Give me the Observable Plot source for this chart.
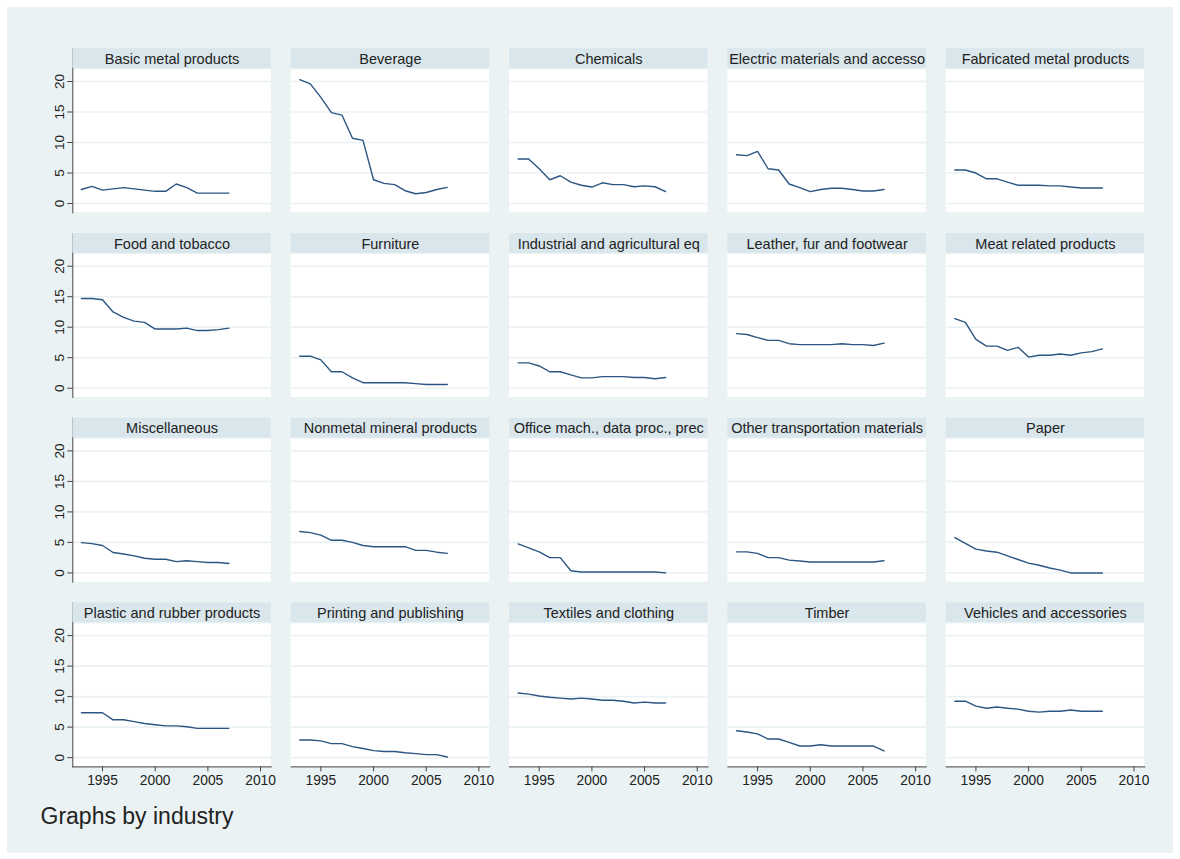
<!DOCTYPE html>
<html><head><meta charset="utf-8">
<script src="https://cdn.jsdelivr.net/npm/d3@7"></script>
<script src="https://cdn.jsdelivr.net/npm/@observablehq/plot@0.6"></script>
<style>
body{margin:0;background:#fff;}
#wrap{position:relative;width:1180px;height:859px;overflow:hidden;font-family:"Liberation Sans",Arial,sans-serif;}
#bg{position:absolute;left:7px;top:7px;width:1166px;height:846px;background:#eaf2f3;}
#chart{position:absolute;left:0;top:0;}
#caption{position:absolute;left:40.5px;top:805px;font-size:23px;line-height:23px;color:#222;white-space:nowrap;}
</style></head>
<body><div id="wrap"><div id="bg"></div><div id="chart"></div><div id="caption">Graphs by industry</div></div>
<script>
const years = [1993,1994,1995,1996,1997,1998,1999,2000,2001,2002,2003,2004,2005,2006,2007];
const industries = [
  "Basic metal products","Beverage","Chemicals","Electric materials and accesso","Fabricated metal products",
  "Food and tobacco","Furniture","Industrial and agricultural eq","Leather, fur and footwear","Meat related products",
  "Miscellaneous","Nonmetal mineral products","Office mach., data proc., prec","Other transportation materials","Paper",
  "Plastic and rubber products","Printing and publishing","Textiles and clothing","Timber","Vehicles and accessories"
];
const yTicks = [0,5,10,15,20];
const xTicks = [1995,2000,2005,2010];

const basicMetal     = [2.3, 2.8, 2.2, 2.4, 2.6, 2.4, 2.2, 2.0, 2.0, 3.2, 2.6, 1.7, 1.7, 1.7, 1.7];
const beverage       = [20.3, 19.6, 17.4, 14.9, 14.5, 10.7, 10.35, 3.9, 3.3, 3.1, 2.1, 1.6, 1.8, 2.3, 2.65];
const chemicals      = [7.3, 7.3, 5.7, 3.9, 4.55, 3.5, 3.0, 2.7, 3.4, 3.1, 3.1, 2.75, 2.9, 2.75, 1.95];
const electric       = [8.0, 7.85, 8.55, 5.7, 5.5, 3.2, 2.6, 1.95, 2.3, 2.5, 2.5, 2.3, 2.05, 2.05, 2.3];
const fabricated     = [5.5, 5.5, 5.0, 4.05, 4.05, 3.5, 3.0, 3.0, 3.0, 2.9, 2.9, 2.7, 2.55, 2.55, 2.55];
const food           = [14.7, 14.7, 14.5, 12.5, 11.6, 11.0, 10.8, 9.7, 9.7, 9.7, 9.85, 9.45, 9.45, 9.6, 9.85];
const furniture      = [5.25, 5.25, 4.65, 2.7, 2.7, 1.7, 0.9, 0.9, 0.9, 0.9, 0.9, 0.75, 0.6, 0.6, 0.6];
const industrial     = [4.15, 4.15, 3.65, 2.7, 2.7, 2.2, 1.7, 1.7, 1.9, 1.9, 1.9, 1.75, 1.75, 1.55, 1.75];
const leather        = [8.95, 8.8, 8.3, 7.85, 7.85, 7.3, 7.15, 7.15, 7.15, 7.15, 7.3, 7.15, 7.15, 7.0, 7.4];
const meat           = [11.4, 10.8, 8.0, 6.9, 6.9, 6.2, 6.7, 5.1, 5.4, 5.4, 5.6, 5.4, 5.8, 6.0, 6.45];
const misc           = [4.97, 4.8, 4.5, 3.35, 3.1, 2.8, 2.4, 2.25, 2.25, 1.85, 2.0, 1.85, 1.7, 1.7, 1.55];
const nonmetal       = [6.8, 6.6, 6.2, 5.35, 5.35, 5.0, 4.5, 4.3, 4.3, 4.3, 4.3, 3.7, 3.7, 3.4, 3.2];
const office         = [4.75, 4.1, 3.45, 2.5, 2.5, 0.35, 0.15, 0.15, 0.15, 0.15, 0.15, 0.15, 0.15, 0.15, 0.0];
const otherTransport = [3.45, 3.45, 3.2, 2.5, 2.5, 2.1, 1.95, 1.8, 1.8, 1.8, 1.8, 1.8, 1.8, 1.8, 2.0];
const paper          = [5.8, 4.85, 3.9, 3.6, 3.4, 2.8, 2.2, 1.6, 1.25, 0.8, 0.45, 0.0, 0.0, 0.0, 0.0];
const plastic        = [7.35, 7.35, 7.35, 6.2, 6.2, 5.9, 5.6, 5.4, 5.2, 5.2, 5.05, 4.8, 4.8, 4.8, 4.8];
const printing       = [2.9, 2.9, 2.75, 2.3, 2.3, 1.8, 1.5, 1.15, 1.0, 1.0, 0.8, 0.65, 0.5, 0.5, 0.1];
const textiles       = [10.6, 10.4, 10.1, 9.9, 9.75, 9.6, 9.75, 9.6, 9.4, 9.4, 9.25, 8.95, 9.1, 8.95, 8.95];
const timber         = [4.4, 4.2, 3.9, 3.05, 3.05, 2.5, 1.9, 1.9, 2.1, 1.9, 1.9, 1.9, 1.9, 1.9, 1.1];
const vehicles       = [9.25, 9.25, 8.45, 8.1, 8.3, 8.1, 7.95, 7.6, 7.45, 7.6, 7.6, 7.8, 7.6, 7.6, 7.6];

const seriesList = [basicMetal, beverage, chemicals, electric, fabricated, food, furniture, industrial, leather, meat,
  misc, nonmetal, office, otherTransport, paper, plastic, printing, textiles, timber, vehicles];

const panels = industries.map((industry, i) => ({industry, col: i % 5, row: Math.floor(i / 5)}));
const rows = panels.flatMap((p, i) => years.map((year, j) => ({...p, year, value: seriesList[i][j]})));

// layout (domain extents of each panel, incl. title strip)
const X0 = 1992.18, X1 = 2011.02;
const Y0 = -1.52, Y1 = 25.36;
const PLOT_TOP = 21.92, STRIP_BOTTOM = 22.12;
const BG = "#eaf2f3", STRIP = "#d9e6eb", INK = "#222", AXIS = "#444", LINE = "#2b5682";
const FONT = "'Liberation Sans', Arial, Helvetica, sans-serif";

const chart = Plot.plot({
  width: 1180, height: 795,
  marginLeft: 72.3, marginRight: 35.8, marginTop: 48.3, marginBottom: 28.6,
  style: {background: "transparent", fontFamily: FONT, color: INK, overflow: "visible"},
  fx: {domain: d3.range(5), paddingInner: 0.0909, paddingOuter: 0, round: false, axis: null},
  fy: {domain: d3.range(4), paddingInner: 0.1121, paddingOuter: 0, round: false, axis: null},
  x: {domain: [X0, X1], label: null},
  y: {domain: [Y0, Y1], axis: null, label: null},
  marks: [
    Plot.rect(panels, {fx: "col", fy: "row", x1: X0, x2: X1, y1: Y0, y2: PLOT_TOP, fill: "white"}),
    Plot.gridY(yTicks, {stroke: BG, strokeOpacity: 1, strokeWidth: 1.6}),
    Plot.frame({anchor: "left", facetAnchor: "left", stroke: AXIS, strokeWidth: 1}),
    Plot.frame({anchor: "bottom", facetAnchor: "bottom", stroke: AXIS, strokeWidth: 1}),
    Plot.rect(panels, {fx: "col", fy: "row", x1: X0, x2: X1, y1: STRIP_BOTTOM, y2: Y1, fill: STRIP}),
    Plot.axisY(yTicks, {label: null, tickSize: 5, tickPadding: 4, tickRotate: -90, fontSize: 13.5, stroke: AXIS, fill: INK}),
    Plot.axisX(xTicks, {label: null, tickFormat: d => String(d), tickSize: 5, tickPadding: 3, fontSize: 13.8, stroke: AXIS, fill: INK}),
    Plot.line(rows, {fx: "col", fy: "row", x: "year", y: "value", z: "industry", stroke: LINE, strokeWidth: 1.4}),
    Plot.text(panels, {fx: "col", fy: "row", text: "industry", frameAnchor: "top", dy: 10.5, lineAnchor: "middle", fontSize: 14.5, fill: INK})
  ]
});
document.getElementById("chart").appendChild(chart);
</script>
</body></html>
